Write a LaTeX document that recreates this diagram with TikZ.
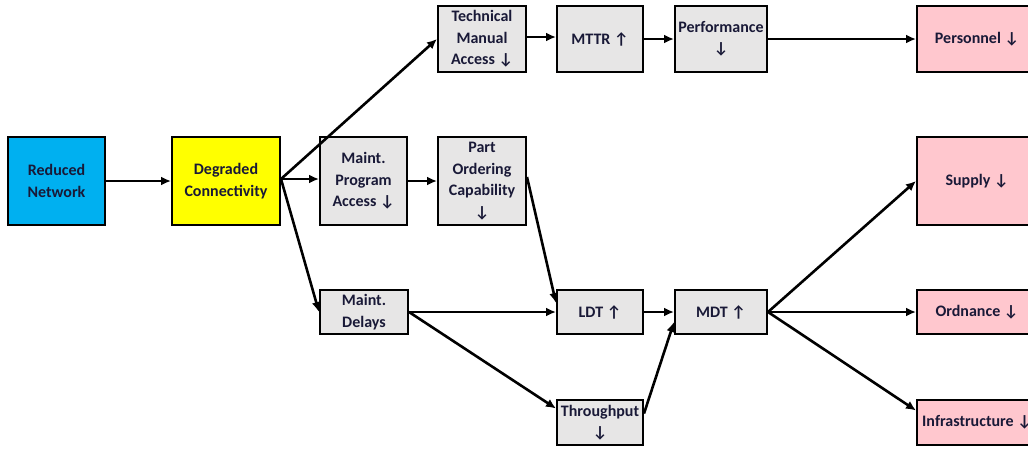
\documentclass[tikz,border=0pt]{standalone}
\usepackage{fontspec}
\setmainfont{Carlito}
\usetikzlibrary{arrows.meta,calc}
\definecolor{txt}{RGB}{25,25,55}
\definecolor{boxgrey}{RGB}{231,230,230}
\definecolor{netblue}{RGB}{0,176,240}
\definecolor{degyel}{RGB}{255,255,0}
\definecolor{outpink}{RGB}{255,199,206}
\tikzset{
  box/.style={draw=black, line width=2pt, fill=boxgrey, inner sep=0pt, align=center,
    text=txt, font=\fontsize{16}{21.5}\selectfont\bfseries},
  conn/.style={line width=2.6pt, -{Latex[length=10pt,width=9pt]}},
}
\newcommand{\bx}[6]{% name, x1, y1, x2, y2, style+text
  \node[box, #6, minimum width={#4-#2}, minimum height={#5-#3}] (#1) at ({(#2+#4)/2},{(#3+#5)/2})}
\begin{document}
\begin{tikzpicture}[x=1pt,y=-1pt]
\useasboundingbox (0,0) rectangle (1028,448);
\clip (0,0) rectangle (1028,448);
\bx{rn}{8}{137}{105}{225}{fill=netblue} {Reduced\\Network};
\bx{dc}{172}{137}{280}{225}{fill=degyel} {Degraded\\Connectivity};
\bx{tma}{438}{6}{526}{72}{} {Technical\\Manual\\Access ↓};
\bx{mttr}{557}{6}{643}{72}{} {MTTR ↑};
\bx{perf}{675}{6}{767}{72}{} {Performance\\↓};
\bx{pers}{917}{6}{1037}{72}{fill=outpink} {Personnel ↓};
\bx{mpa}{320}{137}{407}{225}{} {Maint.\\Program\\Access ↓};
\bx{poc}{438}{137}{526}{225}{} {Part\\Ordering\\Capability\\↓};
\bx{md}{320}{290}{408}{334}{} {Maint.\\Delays};
\bx{ldt}{557}{290}{643}{334}{} {LDT ↑};
\bx{mdt}{675}{290}{767}{334}{} {MDT ↑};
\bx{thr}{557}{400}{643}{445}{} {Throughput\\↓};
\bx{sup}{917}{137}{1037}{225}{fill=outpink} {Supply ↓};
\bx{ord}{917}{290}{1037}{334}{fill=outpink} {Ordnance ↓};
\bx{inf}{917}{400}{1037}{445}{fill=outpink} {Infrastructure ↓};

\draw[conn] (rn.east) -- (dc.west);
\draw[conn] ($(dc.east)+(0,-2)$) -- (tma.west);
\draw[conn] ($(dc.east)+(0,-2)$) -- ($(mpa.west)+(0,-2)$);
\draw[conn] ($(dc.east)+(0,-2)$) -- (md.west);
\draw[conn] ($(tma.east)+(0,-2)$) -- ($(mttr.west)+(0,-2)$);
\draw[conn] (mttr.east) -- (perf.west);
\draw[conn] (perf.east) -- (pers.west);
\draw[conn] (mpa.east) -- (poc.west);
\draw[conn] ($(poc.east)+(0,-4)$) -- ($(ldt.west)+(0,-9)$);
\draw[conn] (md.east) -- (ldt.west);
\draw[conn] (md.east) -- ($(thr.west)+(0,-14)$);
\draw[conn] (ldt.east) -- (mdt.west);
\draw[conn] ($(thr.east)+(0,-9)$) -- ($(mdt.west)+(0,10)$);
\draw[conn] (mdt.east) -- (sup.west);
\draw[conn] (mdt.east) -- (ord.west);
\draw[conn] (mdt.east) -- ($(inf.west)+(0,-12)$);
\end{tikzpicture}
\end{document}
